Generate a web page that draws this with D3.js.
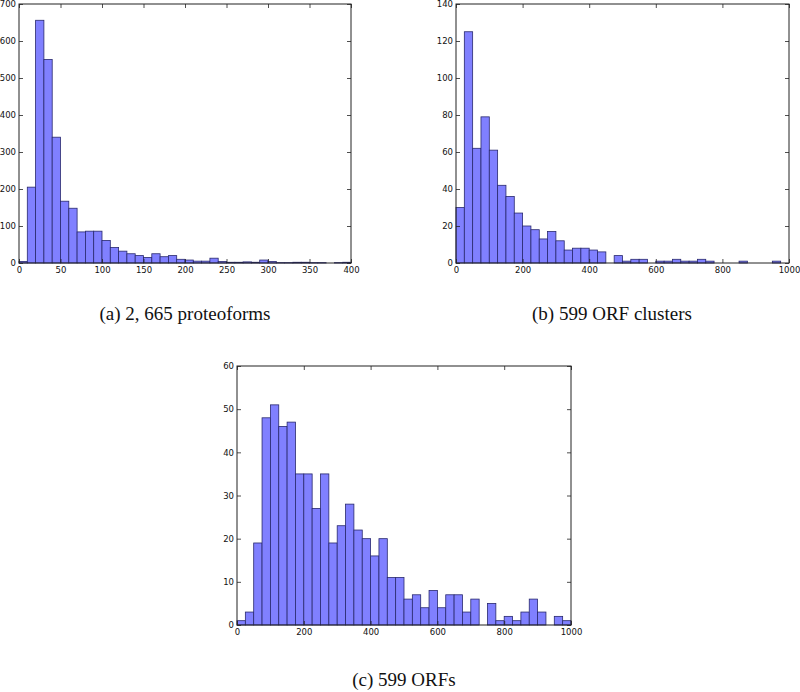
<!DOCTYPE html>
<html><head><meta charset="utf-8">
<script src="https://cdn.jsdelivr.net/npm/d3@7"></script>
<style>body{margin:0;background:#fff}svg{display:block}</style>
</head><body>
<svg id="chart" width="800" height="692"></svg>
<script>
// Panel (a): 2,665 proteoforms, bins of width 10 from 0 to 400
const countsA = [4,205,656,550,340,167,148,84,86,86,61,42,32,25,20,15,25,17,20,10,8,5,5,13,4,2,2,3,2,8,4,1,1,2,2,1,1,0,1,2];
const binWidthA = 10;
const xTicksA = [0,50,100,150,200,250,300,350,400];
const yTicksA = [0,100,200,300,400,500,600,700];

// Panel (b): 599 ORF clusters, bins of width 25 from 0 to 1000
const countsB = [30,125,62,79,61,42,36,27,20,18,13,17,12,7,8,8,7,6,0,4,1,2,2,0,1,1,2,1,1,2,1,0,0,0,1,0,0,0,1,0];
const binWidthB = 25;
const xTicksB = [0,200,400,600,800,1000];
const yTicksB = [0,20,40,60,80,100,120,140];

// Panel (c): 599 ORFs, bins of width 25 from 0 to 1000
const countsC = [1,3,19,48,51,46,47,35,35,27,35,19,23,28,22,20,16,20,11,11,6,7,4,8,4,7,7,3,6,0,5,1,2,1,3,6,3,0,2,1];
const binWidthC = 25;
const xTicksC = [0,200,400,600,800,1000];
const yTicksC = [0,10,20,30,40,50,60];

const captions = ["(a) 2, 665 proteoforms", "(b) 599 ORF clusters", "(c) 599 ORFs"];

const svg = d3.select("#chart");

function panel(cfg) {
  const {x0, x1, yTop, yBot, counts, bw, xTicks, yTicks, caption, capX, capY} = cfg;
  const xMax = counts.length * bw;
  const x = d3.scaleLinear().domain([0, xMax]).range([x0, x1]);
  const y = d3.scaleLinear().domain([0, yTicks[yTicks.length-1]]).range([yBot, yTop]);
  const g = svg.append("g");
  g.selectAll("rect.bar").data(counts).join("rect")
    .attr("class","bar")
    .attr("x", (d,i) => x(i*bw))
    .attr("width", (d,i) => x((i+1)*bw) - x(i*bw))
    .attr("y", d => y(d))
    .attr("height", d => yBot - y(d))
    .attr("fill", "rgb(128,128,255)")
    .attr("stroke", "rgb(40,40,110)")
    .attr("stroke-width", 0.8)
    .attr("display", d => d > 0 ? null : "none");

  const tickLen = 4;
  const axB = d3.axisBottom(x).tickValues(xTicks).tickSize(-tickLen).tickPadding(4).tickFormat(d3.format("d"));
  const axT = d3.axisTop(x).tickValues(xTicks).tickSize(-tickLen).tickFormat("");
  const axL = d3.axisLeft(y).tickValues(yTicks).tickSize(-tickLen).tickPadding(3).tickFormat(d3.format("d"));
  const axR = d3.axisRight(y).tickValues(yTicks).tickSize(-tickLen).tickFormat("");
  const style = s => {
    s.select(".domain").remove();
    s.selectAll("line").attr("stroke","#222").attr("stroke-width",0.8);
    s.selectAll("text").attr("font-family","DejaVu Sans, sans-serif").attr("font-size","8.5px").attr("fill","#111");
  };
  g.append("g").attr("transform",`translate(0,${yBot})`).call(axB).call(style);
  g.append("g").attr("transform",`translate(0,${yTop})`).call(axT).call(style);
  g.append("g").attr("transform",`translate(${x0},0)`).call(axL).call(style);
  g.append("g").attr("transform",`translate(${x1},0)`).call(axR).call(style);
  g.append("rect").attr("x",x0).attr("y",yTop).attr("width",x1-x0).attr("height",yBot-yTop)
    .attr("fill","none").attr("stroke","#222").attr("stroke-width",1);
  g.append("text").attr("x",capX).attr("y",capY).attr("text-anchor","middle")
    .attr("font-family","Liberation Serif, serif").attr("font-size","19px").attr("fill","#111")
    .text(caption);
}

panel({x0:19, x1:351, yTop:4, yBot:263, counts:countsA, bw:binWidthA, xTicks:xTicksA, yTicks:yTicksA, caption:captions[0], capX:185, capY:320});
panel({x0:456, x1:789, yTop:4, yBot:263, counts:countsB, bw:binWidthB, xTicks:xTicksB, yTicks:yTicksB, caption:captions[1], capX:612, capY:320});
panel({x0:237, x1:571, yTop:366, yBot:625, counts:countsC, bw:binWidthC, xTicks:xTicksC, yTicks:yTicksC, caption:captions[2], capX:404, capY:686});
</script>
</body></html>
